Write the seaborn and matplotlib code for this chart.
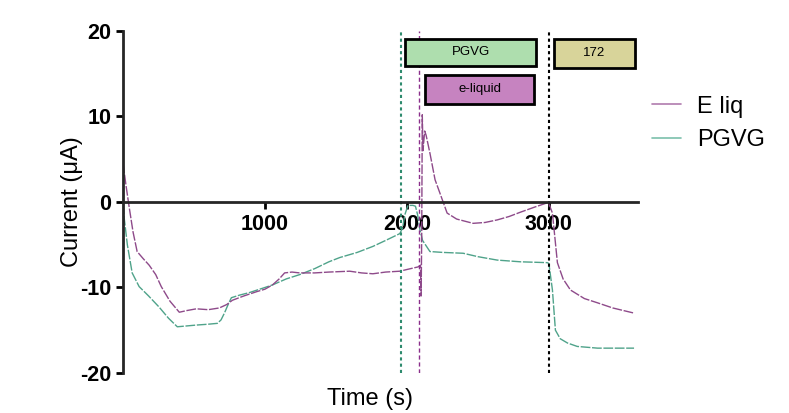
import pandas as pd
import matplotlib.pyplot as plt
import seaborn as sns
from matplotlib.lines import Line2D
from matplotlib.patches import Rectangle

# --- data (time in s, current in uA) ---
eliq_t = [0, 20, 42, 70, 99, 140, 184, 230, 269, 330, 396, 450, 516, 600, 678, 730, 770,
          850, 940, 1000, 1053, 1100, 1138, 1190, 1244, 1350, 1450, 1597, 1680, 1760, 1850,
          1950, 2000, 2078, 2095, 2100, 2104, 2108, 2113, 2125, 2135, 2162, 2198, 2233,
          2283, 2350, 2466, 2550, 2636, 2720, 2799, 2900, 2989, 3000, 3025, 3060, 3100,
          3152, 3250, 3343, 3450, 3600]
eliq_i = [4.5, 2.0, -0.5, -3.5, -5.8, -6.6, -7.4, -8.5, -9.9, -11.6, -12.9, -12.7, -12.5,
          -12.6, -12.4, -12.0, -11.5, -11.0, -10.5, -10.2, -9.7, -9.0, -8.3, -8.2, -8.3,
          -8.3, -8.2, -8.1, -8.3, -8.4, -8.2, -8.1, -7.9, -7.6, -7.4, -11.0, -4.0, 10.2,
          6.0, 8.3, 7.8, 5.7, 2.6, 1.0, -1.3, -2.0, -2.5, -2.4, -2.1, -1.7, -1.2, -0.6,
          -0.1, -0.2, -1.3, -7.1, -9.0, -10.3, -11.3, -11.8, -12.4, -13.0]

pgvg_t = [0, 7, 30, 64, 113, 180, 254, 320, 382, 450, 516, 600, 664, 690, 714, 740, 763,
          820, 890, 1000, 1053, 1150, 1244, 1350, 1450, 1527, 1650, 1760, 1850, 1950, 1970,
          1985, 2007, 2042, 2060, 2075, 2092, 2110, 2162, 2250, 2396, 2500, 2636, 2800,
          2989, 3000, 3025, 3046, 3080, 3131, 3200, 3343, 3450, 3600]
pgvg_i = [-0.3, -1.75, -5.0, -8.3, -9.9, -11.0, -12.3, -13.6, -14.6, -14.5, -14.4, -14.3,
          -14.2, -13.8, -13.0, -12.0, -11.2, -10.9, -10.6, -10.0, -9.7, -9.0, -8.5, -7.8,
          -7.0, -6.5, -5.9, -5.2, -4.5, -3.7, -3.0, -1.5, -0.4, -0.4, -0.5, -1.5, -3.3,
          -4.5, -5.8, -5.9, -6.0, -6.4, -6.8, -7.0, -7.1, -7.2, -10.3, -15.0, -16.0,
          -16.5, -16.9, -17.1, -17.1, -17.1]

# exposure markers and bars
vlines_t = [1958, 2085, 3000]
box_labels = ['PGVG', 'e-liquid', '172']
box_start = [1986, 2127, 3039]
box_end = [2912, 2898, 3604]
box_low = [15.9, 11.5, 15.7]
box_high = [19.1, 14.9, 19.1]

purple = '#8E4A8A'
green = '#4FA38A'

sns.set_style('ticks')
plt.rcParams['font.family'] = ['Liberation Sans', 'DejaVu Sans']
plt.rcParams['axes.unicode_minus'] = False
plt.rcParams['text.color'] = 'black'
plt.rcParams['axes.labelcolor'] = 'black'

fig = plt.figure(figsize=(7.89, 4.13), dpi=100)
ax = fig.add_axes([0.156, 0.097, 0.653, 0.828])

eliq_df = pd.DataFrame({'Time': eliq_t, 'Current': eliq_i})
pgvg_df = pd.DataFrame({'Time': pgvg_t, 'Current': pgvg_i})
sns.lineplot(data=pgvg_df, x='Time', y='Current', ax=ax, color=green, lw=1,
             dashes=False, estimator=None, sort=False)
sns.lineplot(data=eliq_df, x='Time', y='Current', ax=ax, color=purple, lw=1,
             dashes=False, estimator=None, sort=False)
for ln in ax.lines:
    ln.set_linestyle((0, (7, 1.2)))

ax.axvline(vlines_t[0], color='#2E8B6E', ls=(0, (1.5, 1.5)), lw=1.5)
ax.axvline(vlines_t[1], color='#8B2F8B', ls=(0, (3, 2)), lw=1)
ax.axvline(vlines_t[2], color='black', ls=(0, (1.5, 1.5)), lw=1.5)

box_colors = ['#AEDEAE', '#C683C0', '#D8D49A']
for lab, x0, x1, y0, y1, c in zip(box_labels, box_start, box_end, box_low, box_high, box_colors):
    ax.add_patch(Rectangle((x0, y0), x1 - x0, y1 - y0, facecolor=c, edgecolor='black',
                           lw=2, zorder=5))
    ax.text((x0 + x1) / 2, (y0 + y1) / 2, lab, ha='center', va='center', fontsize=9.5,
            zorder=6)

ax.set_xlim(0, 3630)
ax.set_ylim(-20, 20)
ax.set_yticks([-20, -10, 0, 10, 20])
ax.set_xticks([1000, 2000, 3000])
ax.spines['bottom'].set_position(('data', 0))
ax.spines['right'].set_visible(False)
ax.spines['top'].set_visible(False)
ax.spines['left'].set_linewidth(2)
ax.spines['bottom'].set_linewidth(2)
ax.tick_params(axis='both', width=2, length=5, labelsize=15.5, colors='black')
for lbl in ax.get_xticklabels() + ax.get_yticklabels():
    lbl.set_fontweight('bold')

ax.set_ylabel('Current (μA)', fontsize=17)
ax.yaxis.set_label_coords(-0.078, 0.5)
ax.set_xlabel('Time (s)', fontsize=17)
ax.xaxis.set_label_coords(0.48, -0.045)

handles = [Line2D([], [], color='#B07BAE', lw=1.2), Line2D([], [], color='#7CC0AC', lw=1.2)]
fig.legend(handles, ['E liq', 'PGVG'], loc='upper left', bbox_to_anchor=(0.8, 0.82),
           frameon=False, fontsize=17, handlelength=1.2, handletextpad=0.7, labelspacing=0.5)

plt.savefig('out.png', dpi=100)
